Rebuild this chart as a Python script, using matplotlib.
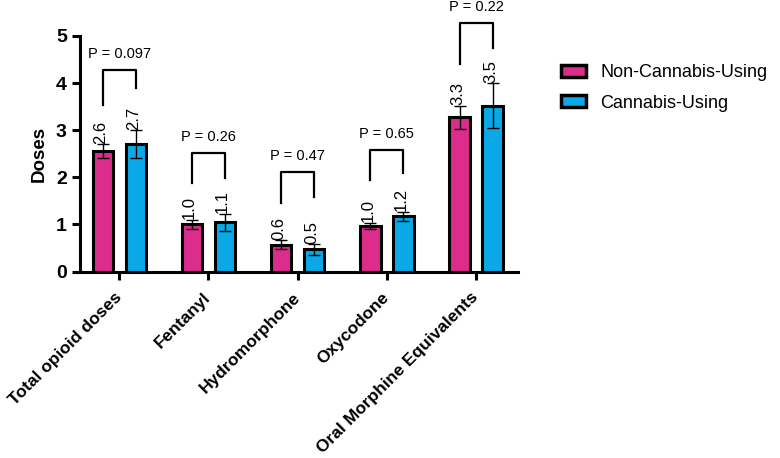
import numpy as np
import matplotlib
matplotlib.use("Agg")
import matplotlib.pyplot as plt
from matplotlib.transforms import ScaledTranslation

# data
categories = ["Total opioid doses", "Fentanyl", "Hydromorphone", "Oxycodone",
              "Oral Morphine Equivalents"]
non_cannabis = [2.55, 1.00, 0.57, 0.97, 3.27]
non_cannabis_err = [0.15, 0.10, 0.09, 0.07, 0.25]
cannabis = [2.70, 1.05, 0.47, 1.17, 3.52]
cannabis_err = [0.30, 0.18, 0.11, 0.10, 0.48]
non_labels = ["2.6", "1.0", "0.6", "1.0", "3.3"]
can_labels = ["2.7", "1.1", "0.5", "1.2", "3.5"]
p_values = ["P = 0.097", "P = 0.26", "P = 0.47", "P = 0.65", "P = 0.22"]
# bracket top and leg ends (y values)
bracket_top = [4.27, 2.51, 2.11, 2.58, 5.27]
bracket_left = [3.54, 1.88, 1.45, 1.95, 4.40]
bracket_right = [3.90, 1.98, 1.59, 2.09, 4.75]

pink = "#DC2D8C"
blue = "#0AA8E6"

plt.rcParams['font.family'] = ['Liberation Sans', 'DejaVu Sans']

fig = plt.figure(figsize=(7.8, 4.58), dpi=100)
ax = fig.add_axes([0.1026, 0.4072, 0.5615, 0.5142])

x = np.arange(len(categories))
w = 0.23
off = 0.185

ax.bar(x - off, non_cannabis, w, yerr=non_cannabis_err, color=pink,
       edgecolor="black", linewidth=2.2, label="Non-Cannabis-Using",
       error_kw=dict(ecolor="black", elinewidth=1.0, capsize=4, capthick=1.0))
ax.bar(x + off, cannabis, w, yerr=cannabis_err, color=blue,
       edgecolor="black", linewidth=2.2, label="Cannabis-Using",
       error_kw=dict(ecolor="black", elinewidth=1.0, capsize=4, capthick=1.0))

# value labels, rotated above error bars
for i in range(len(categories)):
    ax.text(x[i] - off - 0.025, non_cannabis[i] + non_cannabis_err[i] + 0.01,
            non_labels[i], rotation=90, ha="center", va="bottom", fontsize=12)
    ax.text(x[i] + off - 0.025, cannabis[i] + cannabis_err[i] + 0.01,
            can_labels[i], rotation=90, ha="center", va="bottom", fontsize=12)

# significance brackets
for i in range(len(categories)):
    xl = x[i] - off
    xr = x[i] + off
    ax.plot([xl, xl, xr, xr],
            [bracket_left[i], bracket_top[i], bracket_top[i], bracket_right[i]],
            color="black", linewidth=1.6, clip_on=False)
    ax.text(x[i], bracket_top[i] + 0.2, p_values[i], ha="center", va="bottom",
            fontsize=10.5, clip_on=False)

ax.set_xlim(-0.44, 4.47)
ax.set_ylim(0, 5)
ax.set_yticks([0, 1, 2, 3, 4, 5])
ax.set_xticks(x)
ax.set_xticklabels(categories, rotation=45, ha="right", va="center",
                   rotation_mode="anchor", fontsize=12.5, fontweight="bold")
shift = ScaledTranslation(8 / 72, 0, fig.dpi_scale_trans)
for lab in ax.get_xticklabels():
    lab.set_transform(lab.get_transform() + shift)
for lab in ax.get_yticklabels():
    lab.set_fontweight("bold")
    lab.set_fontsize(14)
ax.set_ylabel("Doses", fontsize=13.5, fontweight="bold", labelpad=6)

ax.spines["top"].set_visible(False)
ax.spines["right"].set_visible(False)
ax.spines["left"].set_linewidth(2.2)
ax.spines["bottom"].set_linewidth(2.2)
ax.tick_params(axis="both", width=2.2, length=6, direction="out")
ax.tick_params(axis="x", pad=11)

leg = ax.legend(loc="upper left", bbox_to_anchor=(1.06, 0.95), frameon=False,
                fontsize=13, handlelength=1.4, handleheight=0.65,
                labelspacing=0.75, handletextpad=0.8)
for h in leg.legend_handles:
    h.set_linewidth(2.5)

fig.savefig("out.png", dpi=100)
